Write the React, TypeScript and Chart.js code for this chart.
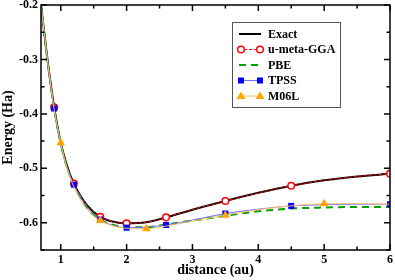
import React, { useEffect, useRef } from "react";
import { Chart, registerables } from "chart.js";
Chart.register(...registerables);

// ---- data ----
const distance = [0.7, 0.8, 0.9, 1.0, 1.1, 1.2, 1.4, 1.6, 1.8, 2.0, 2.3, 2.6, 3.0, 3.5, 4.0, 4.5, 5.0, 5.5, 6.0];
const exact = [-0.2, -0.302, -0.388, -0.453, -0.497, -0.528, -0.568, -0.589, -0.598, -0.601, -0.599, -0.59, -0.576, -0.56, -0.545, -0.532, -0.522, -0.515, -0.51];
const umeta = [-0.2, -0.302, -0.388, -0.453, -0.497, -0.528, -0.568, -0.589, -0.598, -0.601, -0.599, -0.59, -0.576, -0.56, -0.545, -0.532, -0.522, -0.515, -0.51];
const pbe = [-0.2, -0.303, -0.39, -0.455, -0.5, -0.531, -0.572, -0.594, -0.604, -0.608, -0.608, -0.603, -0.596, -0.587, -0.579, -0.574, -0.572, -0.571, -0.571];
const tpss = [-0.2, -0.303, -0.39, -0.455, -0.5, -0.53, -0.572, -0.594, -0.605, -0.609, -0.608, -0.604, -0.595, -0.583, -0.575, -0.569, -0.567, -0.566, -0.566];
const m06l = [-0.2, -0.303, -0.392, -0.453, -0.502, -0.534, -0.576, -0.596, -0.606, -0.61, -0.611, -0.606, -0.597, -0.586, -0.576, -0.569, -0.565, -0.565, -0.566];
const umetaMarkers = [0.9, 1.2, 1.6, 2.0, 2.6, 3.5, 4.5, 6.0];
const tpssMarkers = [0.9, 1.2, 1.6, 2.0, 2.6, 3.5, 4.5, 6.0];
const m06lMarkers = [1.0, 1.6, 2.3, 3.5, 5.0];
const xTicks = [1, 2, 3, 4, 5, 6];
const xMinor = [1.5, 2.5, 3.5, 4.5, 5.5];
const yTicks = [-0.6, -0.5, -0.4, -0.3, -0.2];
const yMinor = [-0.65, -0.55, -0.45, -0.35, -0.25];
const xTitle = "distance (au)";
const yTitle = "Energy (Ha)";

const FONT = "'Liberation Serif', 'DejaVu Serif', serif";

function pts(ys: number[]) {
  return distance.map((x, i) => ({ x, y: ys[i] }));
}
function markerRadius(list: number[], r: number) {
  return (ctx: any) => (list.includes(distance[ctx.dataIndex]) ? r : 0);
}

type LegendItem = {
  label: string;
  color: string;
  width: number;
  dash: number[];
  marker?: "circle" | "rect" | "triangle";
  markerFill?: string;
  markerStroke?: string;
};
const legendItems: LegendItem[] = [
  { label: "Exact", color: "#000000", width: 2, dash: [] },
  { label: "u-meta-GGA", color: "#ff0000", width: 1, dash: [3, 2], marker: "circle", markerFill: "#ffffff", markerStroke: "#ff0000" },
  { label: "PBE", color: "#00a000", width: 2, dash: [7, 5] },
  { label: "TPSS", color: "#7070ff", width: 1, dash: [], marker: "rect", markerFill: "#0000ff", markerStroke: "#0000ff" },
  { label: "M06L", color: "#ffc060", width: 1, dash: [], marker: "triangle", markerFill: "#ffa500", markerStroke: "#ffa500" },
];

function drawMarker(ctx: CanvasRenderingContext2D, kind: string, x: number, y: number, fill: string, stroke: string) {
  ctx.save();
  ctx.setLineDash([]);
  ctx.fillStyle = fill;
  ctx.strokeStyle = stroke;
  ctx.lineWidth = 1.5;
  ctx.beginPath();
  if (kind === "circle") {
    ctx.arc(x, y, 3.3, 0, Math.PI * 2);
    ctx.fill();
    ctx.stroke();
  } else if (kind === "rect") {
    ctx.rect(x - 3, y - 3, 6, 6);
    ctx.fill();
  } else {
    ctx.moveTo(x, y - 4.5);
    ctx.lineTo(x + 4.5, y + 3);
    ctx.lineTo(x - 4.5, y + 3);
    ctx.closePath();
    ctx.fill();
  }
  ctx.restore();
}

const decorPlugin = {
  id: "decor",
  afterDraw(chart: any) {
    const ctx: CanvasRenderingContext2D = chart.ctx;
    const { left, right, top, bottom } = chart.chartArea;
    const xs = chart.scales.x;
    const ys = chart.scales.y;
    ctx.save();
    ctx.strokeStyle = "#000";
    ctx.lineWidth = 1.5;
    ctx.setLineDash([]);
    // ticks
    const tick = (vals: number[], len: number) => {
      vals.forEach((v) => {
        const px = xs.getPixelForValue(v);
        ctx.beginPath();
        ctx.moveTo(px, bottom);
        ctx.lineTo(px, bottom - len);
        ctx.moveTo(px, top);
        ctx.lineTo(px, top + len);
        ctx.stroke();
      });
    };
    const ytick = (vals: number[], len: number) => {
      vals.forEach((v) => {
        const py = ys.getPixelForValue(v);
        ctx.beginPath();
        ctx.moveTo(left, py);
        ctx.lineTo(left + len, py);
        ctx.moveTo(right, py);
        ctx.lineTo(right - len, py);
        ctx.stroke();
      });
    };
    tick(xTicks, 6);
    tick(xMinor, 3.5);
    ytick(yTicks, 6);
    ytick(yMinor, 3.5);
    // frame
    ctx.lineWidth = 1.5;
    ctx.strokeRect(left, top, right - left, bottom - top);

    // axis titles
    ctx.fillStyle = "#000";
    ctx.font = `bold 14px ${FONT}`;
    ctx.textAlign = "center";
    ctx.textBaseline = "middle";
    ctx.fillText(xTitle, (left + right) / 2, 270);
    ctx.save();
    ctx.translate(8, (top + bottom) / 2);
    ctx.rotate(-Math.PI / 2);
    ctx.fillText(yTitle, 0, 0);
    ctx.restore();

    // legend
    const bx = 232, by = 22, bw = 108, bh = 85;
    ctx.fillStyle = "#ffffff";
    ctx.fillRect(bx, by, bw, bh);
    ctx.strokeStyle = "#555555";
    ctx.lineWidth = 1;
    ctx.strokeRect(bx + 0.5, by + 0.5, bw, bh);
    legendItems.forEach((it, i) => {
      const y = 34 + i * 15.5;
      ctx.save();
      ctx.strokeStyle = it.color;
      ctx.lineWidth = it.width;
      ctx.setLineDash(it.dash);
      ctx.beginPath();
      ctx.moveTo(239, y);
      ctx.lineTo(261, y);
      ctx.stroke();
      ctx.restore();
      if (it.marker) {
        drawMarker(ctx, it.marker, 241, y, it.markerFill!, it.markerStroke!);
        drawMarker(ctx, it.marker, 260, y, it.markerFill!, it.markerStroke!);
      }
      ctx.fillStyle = "#000";
      ctx.font = `bold 12px ${FONT}`;
      ctx.textAlign = "left";
      ctx.textBaseline = "middle";
      ctx.fillText(it.label, 268, y + 0.5);
    });
    ctx.restore();
  },
};

export default function App() {
  const ref = useRef<HTMLCanvasElement>(null);
  useEffect(() => {
    document.body.style.margin = "0";
    const canvas = ref.current!;
    const common = {
      fill: false,
      cubicInterpolationMode: "monotone" as const,
      pointHoverRadius: 0,
    };
    const chart = new Chart(canvas, {
      type: "line",
      data: {
        datasets: [
          {
            ...common,
            label: "M06L",
            data: pts(m06l),
            borderColor: "#ffc060",
            borderWidth: 1,
            pointStyle: "triangle",
            pointRadius: markerRadius(m06lMarkers, 5),
            pointBackgroundColor: "#ffa500",
            pointBorderColor: "#ffa500",
            pointBorderWidth: 0,
            order: 1,
          },
          {
            ...common,
            label: "TPSS",
            data: pts(tpss),
            borderColor: "#7070ff",
            borderWidth: 1,
            pointStyle: "rect",
            pointRadius: markerRadius(tpssMarkers, 4.3),
            pointBackgroundColor: "#0000ff",
            pointBorderColor: "#0000ff",
            pointBorderWidth: 0,
            order: 2,
          },
          {
            ...common,
            label: "PBE",
            data: pts(pbe),
            borderColor: "#00a000",
            borderWidth: 2,
            borderDash: [7, 5],
            pointRadius: 0,
            order: 3,
          },
          {
            ...common,
            label: "u-meta-GGA",
            data: pts(umeta),
            borderColor: "#ff0000",
            borderWidth: 1,
            borderDash: [3, 2],
            pointStyle: "circle",
            pointRadius: markerRadius(umetaMarkers, 3.3),
            pointBackgroundColor: "#ffffff",
            pointBorderColor: "#ff0000",
            pointBorderWidth: 1.5,
            order: 4,
          },
          {
            ...common,
            label: "Exact",
            data: pts(exact),
            borderColor: "#000000",
            borderWidth: 2,
            pointRadius: 0,
            order: 5,
          },
        ],
      },
      options: {
        animation: false,
        responsive: false,
        events: [],
        layout: { padding: { top: 5, right: 5, left: 0, bottom: 0 } },
        plugins: { legend: { display: false }, tooltip: { enabled: false } },
        scales: {
          x: {
            type: "linear",
            min: 0.7,
            max: 6,
            grid: { display: false, drawTicks: false },
            border: { display: false },
            ticks: { color: "#000", font: { family: FONT, size: 12, weight: "bold" }, padding: 3 },
            afterBuildTicks: (s: any) => {
              s.ticks = xTicks.map((v) => ({ value: v }));
            },
            afterFit: (s: any) => {
              s.height = 30;
              s.paddingLeft = 0;
              s.paddingRight = 0;
            },
          },
          y: {
            type: "linear",
            min: -0.65,
            max: -0.2,
            grid: { display: false, drawTicks: false },
            border: { display: false },
            ticks: {
              color: "#000",
              font: { family: FONT, size: 12, weight: "bold" },
              padding: 3,
              callback: (v: any) => String(Number(v).toFixed(1)),
            },
            afterBuildTicks: (s: any) => {
              s.ticks = yTicks.map((v) => ({ value: v }));
            },
            afterFit: (s: any) => {
              s.width = 41;
              s.paddingTop = 0;
              s.paddingBottom = 0;
            },
          },
        },
      },
      plugins: [decorPlugin],
    });
    return () => chart.destroy();
  }, []);
  return <canvas ref={ref} width={395} height={280} style={{ display: "block" }} />;
}
